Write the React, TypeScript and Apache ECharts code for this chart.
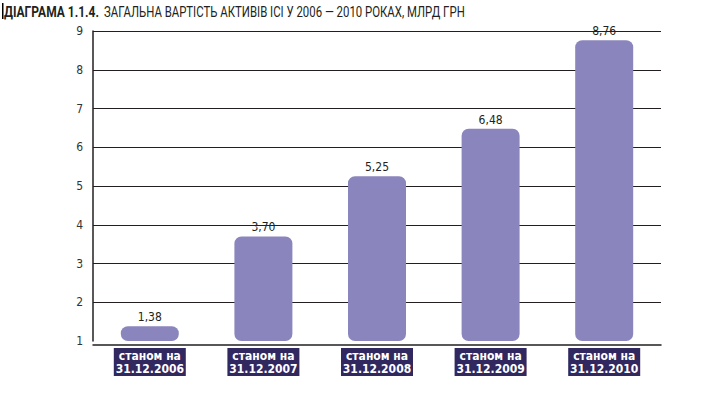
import React, { useEffect, useRef } from "react";
import * as echarts from "echarts";

const categories = ["станом на\n31.12.2006", "станом на\n31.12.2007", "станом на\n31.12.2008", "станом на\n31.12.2009", "станом на\n31.12.2010"];
const values = [1.38, 3.7, 5.25, 6.48, 8.76];
const titleBold = "ДІАГРАМА 1.1.4.";
const titleRest = "ЗАГАЛЬНА ВАРТІСТЬ АКТИВІВ ІСІ У 2006 — 2010 РОКАХ, МЛРД ГРН";

const FONT = "'Liberation Sans Narrow', 'DejaVu Sans Condensed', 'Roboto', sans-serif";
const TFONT = "Roboto";

function measure(text: string, weight: string, size: number): number {
  const c = document.createElement("canvas").getContext("2d")!;
  c.font = `${weight} ${size}px ${TFONT}`;
  return c.measureText(text).width;
}

export default function App() {
  const ref = useRef<HTMLDivElement>(null);
  useEffect(() => {
    document.body.style.margin = "0";
    const chart = echarts.init(ref.current!, null, { renderer: "svg" });
    const boldW = measure(titleBold, "bold", 14);
    const restW = measure(titleRest, "normal", 14);
    const sBold = 95 / boldW;
    const sRest = 361 / restW;
    chart.setOption({
      animation: false,
      backgroundColor: "#fff",
      textStyle: { fontFamily: FONT },
      graphic: [
        { type: "rect", shape: { x: 2, y: 3, width: 1.5, height: 16 }, style: { fill: "#000" } },
        {
          type: "text",
          x: 4,
          y: 12.5,
          scaleX: sBold,
          style: { text: titleBold, font: `bold 14px ${TFONT}`, fill: "#231f20", verticalAlign: "middle", align: "left" },
        },
        {
          type: "text",
          x: 104,
          y: 12.5,
          scaleX: sRest,
          style: { text: titleRest, font: `normal 14px ${TFONT}`, fill: "#231f20", verticalAlign: "middle", align: "left" },
        },
      ],
      grid: { left: 93, right: 67, top: 31, bottom: 58 },
      xAxis: {
        type: "category",
        data: categories,
        offset: 4,
        axisLine: { lineStyle: { color: "#231f20", width: 1.5 } },
        axisTick: { show: false },
        axisLabel: {
          margin: 3,
          color: "#fff",
          fontFamily: FONT,
          fontWeight: "bold",
          fontSize: 12,
          lineHeight: 13,
          backgroundColor: "#30285f",
          width: 72,
          align: "center",
          padding: [1, 0, 1, 0],
          interval: 0,
        },
      },
      yAxis: {
        type: "value",
        min: 1,
        max: 9,
        interval: 1,
        axisLine: { show: true, lineStyle: { color: "#231f20", width: 1.5 } },
        axisTick: { show: false },
        axisLabel: { color: "#333", fontSize: 12, fontFamily: FONT, margin: 10 },
        splitLine: {
          showMinLine: false,
          lineStyle: {
            color: ["#231f20", "#231f20", "#231f20", "#231f20", "#231f20", "#231f20", "#231f20", "#231f20", "#999"],
            width: 1.2,
          },
        },
      },
      series: [
        {
          type: "bar",
          data: values,
          barWidth: 58,
          itemStyle: { color: "#8a85bd", borderRadius: 7 },
          label: {
            show: true,
            position: "top",
            distance: 3,
            color: "#231f20",
            fontSize: 12,
            fontFamily: FONT,
            formatter: (p: any) => p.value.toFixed(2).replace(".", ","),
          },
        },
      ],
    });
    return () => chart.dispose();
  }, []);
  return <div ref={ref} style={{ width: 728, height: 399 }} />;
}
